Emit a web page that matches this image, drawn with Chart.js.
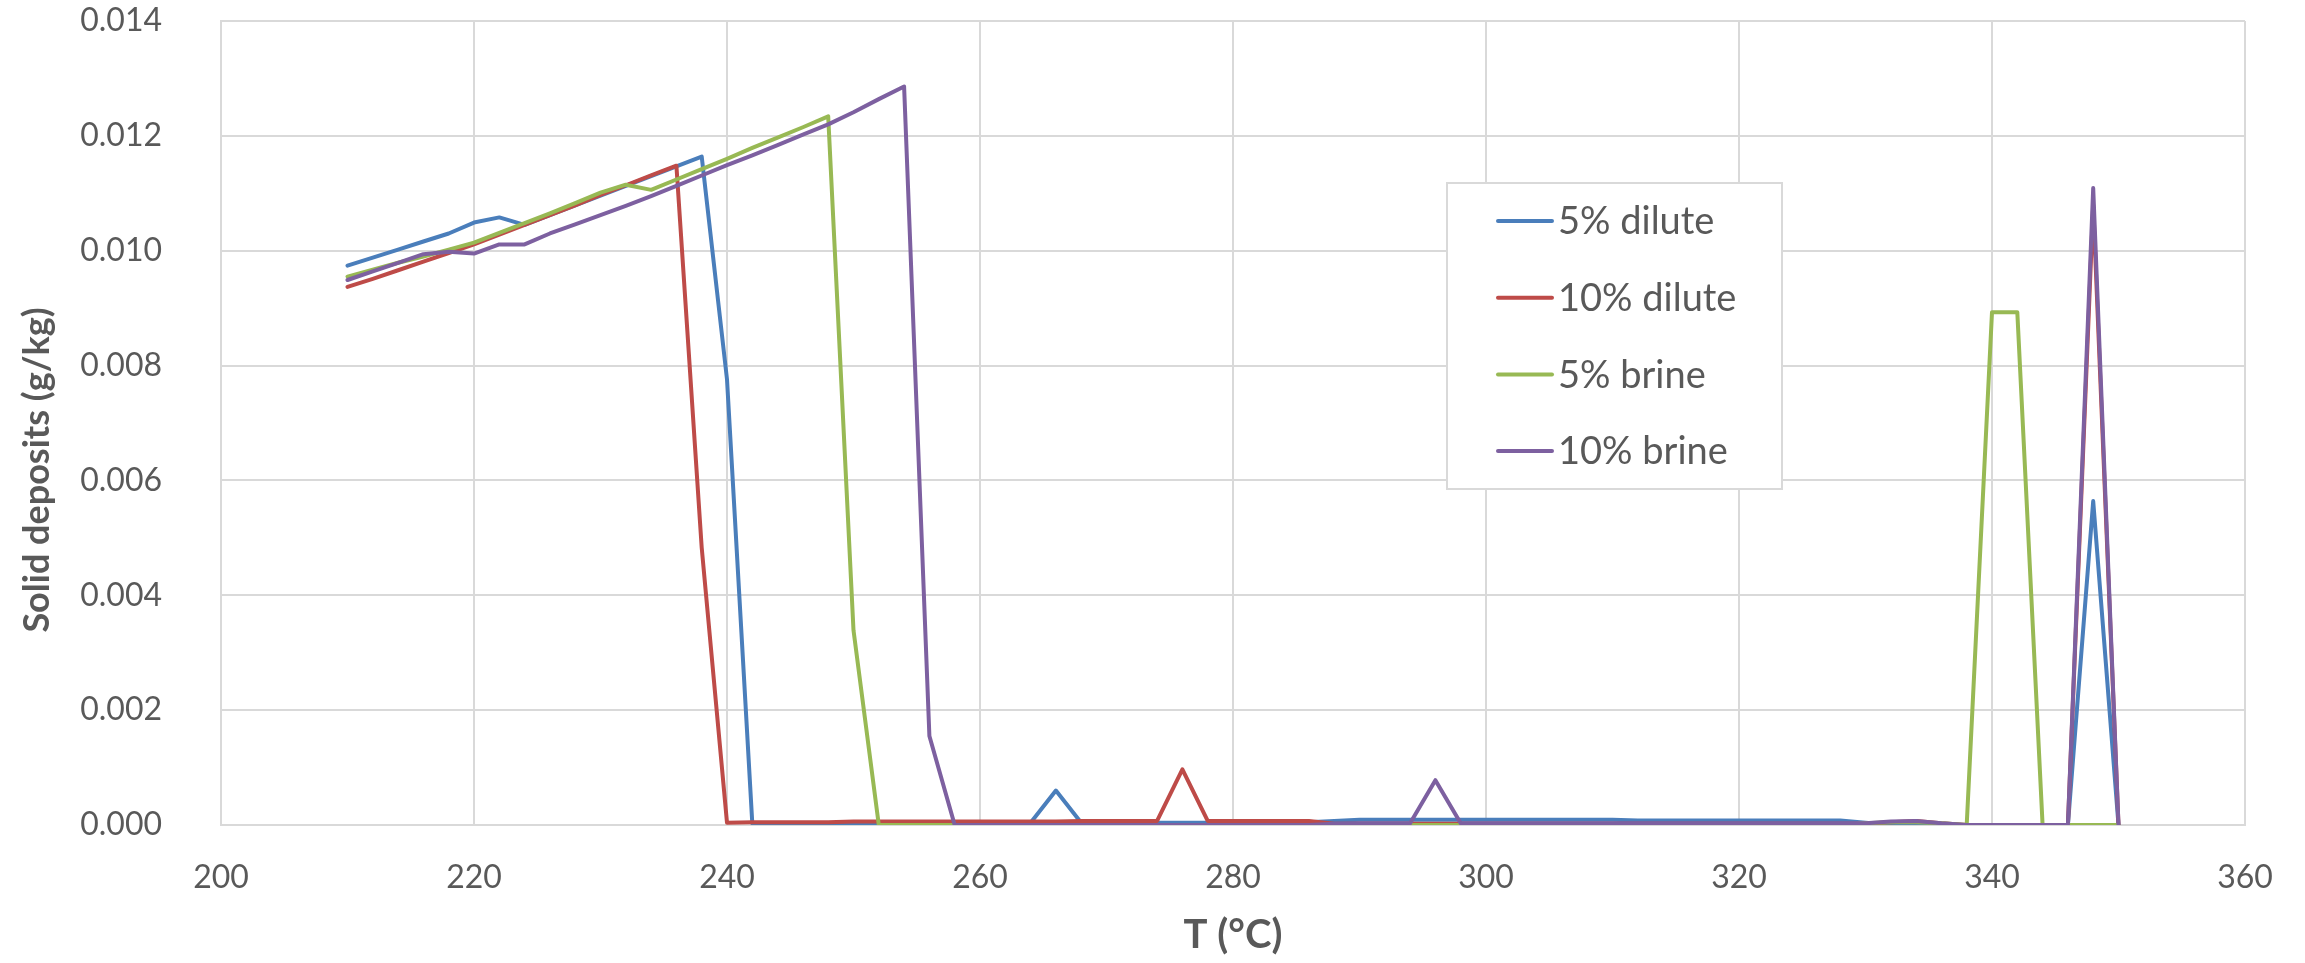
<!DOCTYPE html>
<html>
<head>
<meta charset="utf-8">
<title>Solid deposits vs T</title>
<script src="https://cdn.jsdelivr.net/npm/chart.js@4.4.1/dist/chart.umd.min.js"></script>
<style>
  html, body { margin: 0; padding: 0; background: #fff; }
  #wrap { width: 2305px; height: 963px; }
</style>
</head>
<body>
<div id="wrap"><canvas id="depositChart" width="2305" height="963"></canvas></div>
<script>
// temperature in °C, one point every 2 degrees
const temps = [
  210, 212, 214, 216, 218, 220, 222, 224, 226, 228,
  230, 232, 234, 236, 238, 240, 242, 244, 246, 248,
  250, 252, 254, 256, 258, 260, 262, 264, 266, 268,
  270, 272, 274, 276, 278, 280, 282, 284, 286, 288,
  290, 292, 294, 296, 298, 300, 302, 304, 306, 308,
  310, 312, 314, 316, 318, 320, 322, 324, 326, 328,
  330, 332, 334, 336, 338, 340, 342, 344, 346, 348,
  350
];

// solid deposits (g/kg)
const dilute5 = [
  0.00974, 0.00988, 0.01002, 0.01016, 0.01030, 0.01049, 0.01058, 0.01045, 0.01062, 0.01079,
  0.01096, 0.01113, 0.01130, 0.01147, 0.01164, 0.00776, 0.00003, 0.00003, 0.00003, 0.00003,
  0.00003, 0.00003, 0.00004, 0.00004, 0.00004, 0.00004, 0.00004, 0.00004, 0.00060, 0.00004,
  0.00004, 0.00004, 0.00004, 0.00004, 0.00004, 0.00005, 0.00005, 0.00005, 0.00005, 0.00007,
  0.00009, 0.00009, 0.00009, 0.00009, 0.00009, 0.00009, 0.00009, 0.00009, 0.00009, 0.00009,
  0.00009, 0.00008, 0.00008, 0.00008, 0.00008, 0.00008, 0.00008, 0.00008, 0.00008, 0.00008,
  0.00004, 0.00000, 0.00000, 0.00000, 0.00000, 0.00000, 0.00000, 0.00000, 0.00000, 0.00564,
  0.00000
];

const dilute10 = [
  0.00937, 0.00951, 0.00966, 0.00981, 0.00996, 0.01011, 0.01028, 0.01045, 0.01062, 0.01079,
  0.01097, 0.01114, 0.01131, 0.01148, 0.00483, 0.00004, 0.00005, 0.00005, 0.00005, 0.00005,
  0.00006, 0.00006, 0.00006, 0.00006, 0.00006, 0.00006, 0.00006, 0.00006, 0.00006, 0.00007,
  0.00007, 0.00007, 0.00007, 0.00097, 0.00007, 0.00007, 0.00007, 0.00007, 0.00007, 0.00002,
  0.00002, 0.00002, 0.00002, 0.00002, 0.00002, 0.00002, 0.00002, 0.00002, 0.00002, 0.00002,
  0.00002, 0.00002, 0.00002, 0.00002, 0.00002, 0.00002, 0.00002, 0.00002, 0.00002, 0.00002,
  0.00002, 0.00005, 0.00007, 0.00003, 0.00000, 0.00000, 0.00000, 0.00000, 0.00000, 0.01080,
  0.00000
];

const brine5 = [
  0.00955, 0.00967, 0.00979, 0.00990, 0.01002, 0.01014, 0.01031, 0.01048, 0.01065, 0.01083,
  0.01101, 0.01115, 0.01106, 0.01124, 0.01142, 0.01160, 0.01179, 0.01197, 0.01215, 0.01234,
  0.00339, 0.00000, 0.00000, 0.00000, 0.00000, 0.00000, 0.00000, 0.00000, 0.00000, 0.00000,
  0.00000, 0.00000, 0.00000, 0.00000, 0.00000, 0.00000, 0.00000, 0.00000, 0.00000, 0.00000,
  0.00000, 0.00000, 0.00000, 0.00000, 0.00000, 0.00000, 0.00000, 0.00000, 0.00000, 0.00000,
  0.00000, 0.00000, 0.00000, 0.00000, 0.00000, 0.00000, 0.00000, 0.00000, 0.00000, 0.00000,
  0.00003, 0.00005, 0.00005, 0.00003, 0.00000, 0.00893, 0.00893, 0.00000, 0.00000, 0.00000,
  0.00000
];

const brine10 = [
  0.00949, 0.00964, 0.00979, 0.00994, 0.00998, 0.00995, 0.01011, 0.01011, 0.01030, 0.01046,
  0.01062, 0.01078, 0.01095, 0.01113, 0.01131, 0.01149, 0.01166, 0.01184, 0.01202, 0.01220,
  0.01241, 0.01264, 0.01286, 0.00155, 0.00000, 0.00000, 0.00000, 0.00000, 0.00000, 0.00000,
  0.00000, 0.00000, 0.00000, 0.00000, 0.00000, 0.00000, 0.00000, 0.00000, 0.00000, 0.00002,
  0.00003, 0.00003, 0.00003, 0.00078, 0.00003, 0.00003, 0.00003, 0.00003, 0.00003, 0.00003,
  0.00003, 0.00003, 0.00003, 0.00003, 0.00003, 0.00003, 0.00003, 0.00003, 0.00003, 0.00003,
  0.00003, 0.00006, 0.00007, 0.00003, 0.00000, 0.00000, 0.00000, 0.00000, 0.00000, 0.01109,
  0.00000
];

const seriesNames = ['5% dilute', '10% dilute', '5% brine', '10% brine'];
const seriesColors = ['#4A7EBB', '#BE4B48', '#98B954', '#7D60A0'];

const xTitle = 'T (°C)';
const yTitle = 'Solid deposits (g/kg)';

const textColor = '#595959';
const gridColor = '#D9D9D9';

// pair temps with each series
const toPoints = vals => temps.map((t, i) => ({ x: t, y: vals[i] }));

const datasets = [dilute5, dilute10, brine5, brine10].map((vals, i) => ({
    label: seriesNames[i],
    data: toPoints(vals),
    borderColor: seriesColors[i],
    backgroundColor: seriesColors[i],
    borderWidth: 4,
    borderJoinStyle: 'round',
    borderCapStyle: 'round',
    pointRadius: 0,
    tension: 0,
    fill: false,
    order: 4 - i   // last series on top, like Excel
}));

// boxed legend inside the plot + y title (Excel centres it a bit lower
// than the plot middle, which the built in axis title can't do)
const extras = {
    id: 'extras',
    afterDraw(chart) {
        const ctx = chart.ctx;
        const box = { x: 1447, y: 183, w: 335, h: 306 };
        ctx.save();
        ctx.fillStyle = '#fff';
        ctx.fillRect(box.x, box.y, box.w, box.h);
        ctx.strokeStyle = gridColor;
        ctx.lineWidth = 2;
        ctx.strokeRect(box.x, box.y, box.w, box.h);

        ctx.font = '38px Lato';
        ctx.textBaseline = 'middle';
        ctx.textAlign = 'left';
        chart.data.datasets.forEach((ds, i) => {
            const y = 221 + i * 76.7;
            ctx.strokeStyle = ds.borderColor;
            ctx.lineWidth = 4;
            ctx.lineCap = 'round';
            ctx.beginPath();
            ctx.moveTo(1498, y);
            ctx.lineTo(1552, y);
            ctx.stroke();
            ctx.fillStyle = textColor;
            ctx.fillText(ds.label, 1558, y + 1);
        });

        // y axis title
        ctx.translate(37, 470);
        ctx.rotate(-Math.PI / 2);
        ctx.font = 'bold 36px Lato';
        ctx.textAlign = 'center';
        ctx.fillStyle = textColor;
        ctx.fillText(yTitle, 0, 0);
        ctx.restore();
    }
};

const ctx = document.getElementById('depositChart').getContext('2d');

// note: tick padding gets added to the axis end padding, so the label
// gap is made with an invisible tick mark instead
new Chart(ctx, {
    type: 'line',
    data: { datasets: datasets },
    options: {
        responsive: false,
        animation: false,
        devicePixelRatio: 1,
        layout: { padding: { top: 21, right: 60, bottom: 0, left: 0 } },
        plugins: {
            legend: { display: false },
            tooltip: { enabled: false }
        },
        scales: {
            x: {
                type: 'linear',
                min: 200,
                max: 360,
                afterFit: scale => { scale.height = 138; },
                ticks: {
                    stepSize: 20,
                    maxRotation: 0,
                    padding: 0,
                    color: textColor,
                    font: { family: 'Lato', size: 32 }
                },
                grid: { color: gridColor, lineWidth: 2, drawTicks: true, tickLength: 33, tickColor: 'rgba(0,0,0,0)' },
                border: { color: gridColor, width: 2 },
                title: {
                    display: true,
                    text: xTitle,
                    color: textColor,
                    font: { family: 'Lato', size: 40, weight: 'bold' },
                    padding: { top: 0, bottom: 4 }
                }
            },
            y: {
                min: 0,
                max: 0.014,
                afterFit: scale => { scale.width = 221; },
                ticks: {
                    stepSize: 0.002,
                    padding: 0,
                    color: textColor,
                    font: { family: 'Lato', size: 32 },
                    callback: v => v.toFixed(3)
                },
                grid: { color: gridColor, lineWidth: 2, drawTicks: true, tickLength: 59, tickColor: 'rgba(0,0,0,0)' },
                border: { color: gridColor, width: 2 },
                title: { display: false }
            }
        }
    },
    plugins: [extras]
});
</script>
</body>
</html>
